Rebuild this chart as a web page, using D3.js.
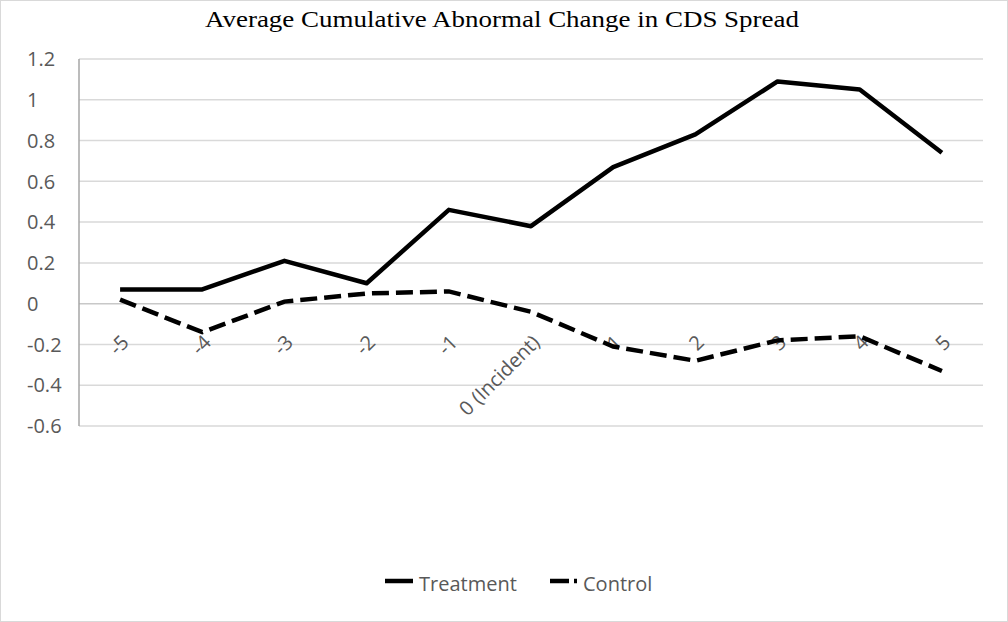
<!DOCTYPE html>
<html>
<head>
  <meta charset="utf-8" />
  <title>Average Cumulative Abnormal Change in CDS Spread</title>
  <script src="https://cdn.jsdelivr.net/npm/d3@7"></script>
  <style>
    body { margin: 0; background: #fff; }
    svg { display: block; }
    .ylab, .xlab, .leg { font-family: "Open Sans", "Liberation Sans", Arial, sans-serif; fill: #595959; }
  </style>
</head>
<body>
  <div id="chart"></div>
  <script>
    // data
    const days = ["-5", "-4", "-3", "-2", "-1", "0 (Incident)", "1", "2", "3", "4", "5"];
    const treatment = [0.07, 0.07, 0.21, 0.10, 0.46, 0.38, 0.67, 0.83, 1.09, 1.05, 0.74];
    const control = [0.02, -0.14, 0.01, 0.05, 0.06, -0.04, -0.21, -0.28, -0.18, -0.16, -0.33];
    const yTicks = [-0.6, -0.4, -0.2, 0, 0.2, 0.4, 0.6, 0.8, 1, 1.2];

    const W = 1008, H = 622;
    const plot = { left: 79, right: 983, top: 59, bottom: 426 };

    const svg = d3.select("#chart").append("svg")
      .attr("width", W).attr("height", H);

    // outer frame
    svg.append("rect")
      .attr("x", 0.5).attr("y", 0.5)
      .attr("width", W - 1).attr("height", H - 1)
      .attr("fill", "#fff").attr("stroke", "#d9d9d9");

    svg.append("text")
      .attr("x", 502).attr("y", 27)
      .attr("text-anchor", "middle")
      .attr("textLength", 594)
      .attr("lengthAdjust", "spacingAndGlyphs")
      .style("font-family", "'Liberation Serif', 'Times New Roman', serif")
      .style("font-size", "24px")
      .style("fill", "#000")
      .text("Average Cumulative Abnormal Change in CDS Spread");

    const x = d3.scaleBand().domain(days).range([plot.left, plot.right]).padding(0);
    const y = d3.scaleLinear().domain([-0.6, 1.2]).range([plot.bottom, plot.top]);
    const cx = d => x(d) + x.bandwidth() / 2;

    // gridlines
    svg.append("g")
      .selectAll("line")
      .data(yTicks)
      .join("line")
      .attr("x1", plot.left).attr("x2", plot.right)
      .attr("y1", d => y(d)).attr("y2", d => y(d))
      .attr("stroke", d => d === 0 ? "#c8c8c8" : "#d9d9d9")
      .attr("stroke-width", 1.5);

    // y axis line
    svg.append("line")
      .attr("x1", plot.left).attr("x2", plot.left)
      .attr("y1", plot.top).attr("y2", plot.bottom)
      .attr("stroke", "#a6a6a6").attr("stroke-width", 1.5);

    svg.append("g")
      .selectAll("text")
      .data(yTicks)
      .join("text")
      .attr("class", "ylab")
      .attr("x", 27)
      .attr("y", d => y(d))
      .attr("dy", "0.36em")
      .style("font-size", "20px")
      .text(d => String(d));

    // x labels, rotated, hanging just under the zero line
    svg.append("g")
      .selectAll("text")
      .data(days)
      .join("text")
      .attr("class", "xlab")
      .attr("text-anchor", "end")
      .attr("transform", d => `translate(${cx(d) + 10},${y(0) + 40}) rotate(-45)`)
      .style("font-size", "20px")
      .text(d => d);

    const line = d3.line().x((d, i) => cx(days[i])).y(d => y(d));

    svg.append("path")
      .datum(treatment)
      .attr("d", line)
      .attr("fill", "none")
      .attr("stroke", "#000")
      .attr("stroke-width", 4.5)
      .attr("stroke-linejoin", "round");

    svg.append("path")
      .datum(control)
      .attr("d", line)
      .attr("fill", "none")
      .attr("stroke", "#000")
      .attr("stroke-width", 4.5)
      .attr("stroke-dasharray", "17,7");

    // legend
    const leg = svg.append("g");
    leg.append("line")
      .attr("x1", 385).attr("x2", 413).attr("y1", 581).attr("y2", 581)
      .attr("stroke", "#000").attr("stroke-width", 4.5);
    leg.append("text").attr("class", "leg")
      .attr("x", 419).attr("y", 591)
      .style("font-size", "20px").text("Treatment");
    leg.append("line")
      .attr("x1", 550).attr("x2", 578).attr("y1", 581).attr("y2", 581)
      .attr("stroke", "#000").attr("stroke-width", 4.5)
      .attr("stroke-dasharray", "19,5,3,30");
    leg.append("text").attr("class", "leg")
      .attr("x", 583).attr("y", 591)
      .style("font-size", "20px").text("Control");
  </script>
</body>
</html>
